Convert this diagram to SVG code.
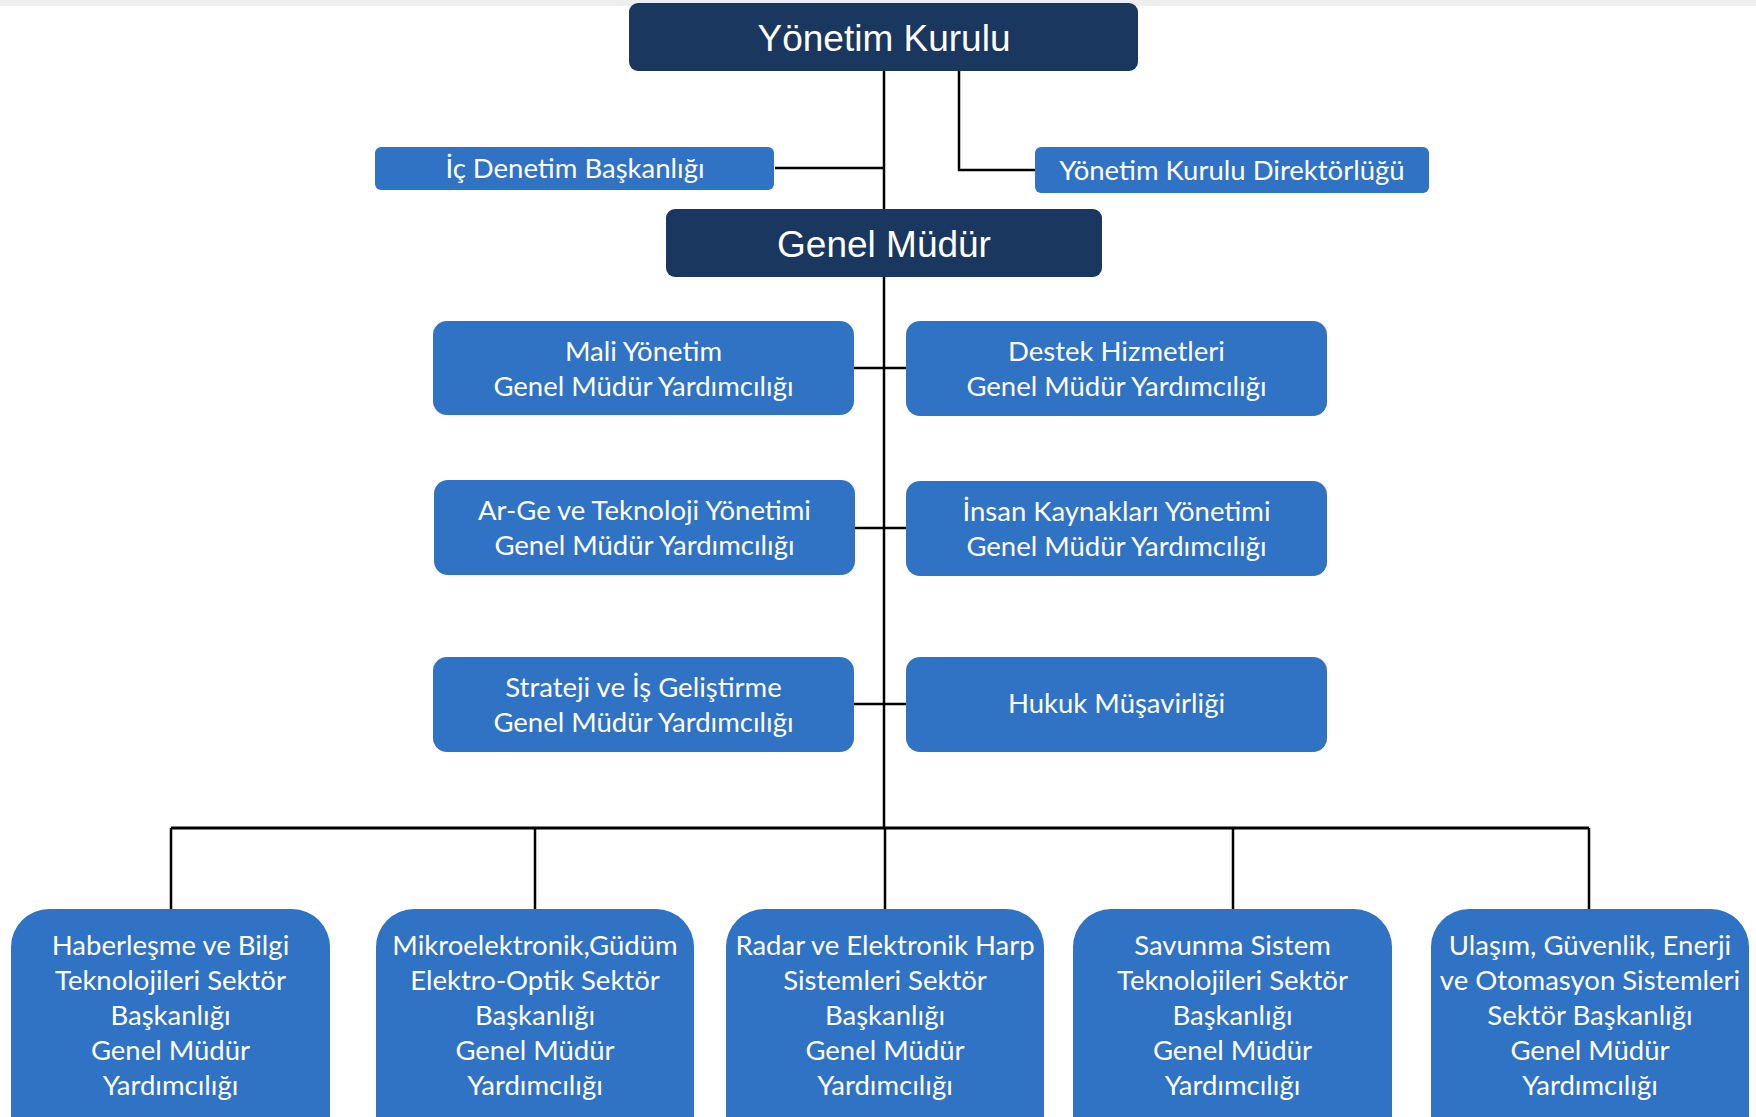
<svg xmlns="http://www.w3.org/2000/svg" width="1756" height="1117" viewBox="0 0 1756 1117">
<style>
.navy{fill:#1A375F}
.blue{fill:#3072C4}
.t1{font-family:"Liberation Sans",Arial,sans-serif;font-size:37px;fill:#fff;text-anchor:middle}
.t2{font-family:Lato,"Open Sans",sans-serif;font-size:27.5px;fill:#fff;text-anchor:middle}
.c{stroke:#000;stroke-width:2.5;fill:none}
</style>
<rect x="0" y="0" width="1756" height="1117" fill="#fff"/>
<rect x="0" y="0" width="1756" height="6" fill="#EEEEEE"/>
<g id="connectors">
<path class="c" d="M884 71V209"/>
<path class="c" d="M884 69H959V170H1035"/>
<path class="c" d="M775 168H884"/>
<path class="c" d="M884 277V828"/>
<path class="c" d="M854 368H906"/>
<path class="c" d="M855 528H906"/>
<path class="c" d="M854 704H906"/>
<path class="c" style="stroke-width:3" d="M171 828H1589"/>
<path class="c" d="M171 828V909M535 828V909M885 828V909M1233 828V909M1589 828V909"/>
</g>
<g id="yonetim-kurulu"><rect class="navy" x="629" y="3" width="509" height="68" rx="9"/><text class="t1" x="884" y="51">Yönetim Kurulu</text></g>
<g id="ic-denetim"><rect class="blue" x="375" y="147" width="399" height="43" rx="6"/><text class="t2" x="575" y="178">İç Denetim Başkanlığı</text></g>
<g id="yk-direktorlugu"><rect class="blue" x="1035" y="147" width="394" height="46" rx="6"/><text class="t2" x="1232" y="180">Yönetim Kurulu Direktörlüğü</text></g>
<g id="genel-mudur"><rect class="navy" x="666" y="209" width="436" height="68" rx="9"/><text class="t1" x="884" y="257">Genel Müdür</text></g>
<g id="mali"><rect class="blue" x="433" y="321" width="421" height="94" rx="14"/><text class="t2" x="643.5" y="361">Mali Yönetim</text><text class="t2" x="643.5" y="396">Genel Müdür Yardımcılığı</text></g>
<g id="destek"><rect class="blue" x="906" y="321" width="421" height="95" rx="14"/><text class="t2" x="1116.5" y="361">Destek Hizmetleri</text><text class="t2" x="1116.5" y="396">Genel Müdür Yardımcılığı</text></g>
<g id="arge"><rect class="blue" x="434" y="480" width="421" height="95" rx="14"/><text class="t2" x="644.5" y="520">Ar-Ge ve Teknoloji Yönetimi</text><text class="t2" x="644.5" y="555">Genel Müdür Yardımcılığı</text></g>
<g id="insan"><rect class="blue" x="906" y="481" width="421" height="95" rx="14"/><text class="t2" x="1116.5" y="521">İnsan Kaynakları Yönetimi</text><text class="t2" x="1116.5" y="556">Genel Müdür Yardımcılığı</text></g>
<g id="strateji"><rect class="blue" x="433" y="657" width="421" height="95" rx="14"/><text class="t2" x="643.5" y="697">Strateji ve İş Geliştirme</text><text class="t2" x="643.5" y="732">Genel Müdür Yardımcılığı</text></g>
<g id="hukuk"><rect class="blue" x="906" y="657" width="421" height="95" rx="14"/><text class="t2" x="1116.5" y="713">Hukuk Müşavirliği</text></g>
<g id="haberlesme"><rect class="blue" x="11" y="909" width="319" height="260" rx="38"/><text class="t2" x="170.5" y="955">Haberleşme ve Bilgi</text><text class="t2" x="170.5" y="990">Teknolojileri Sektör</text><text class="t2" x="170.5" y="1025">Başkanlığı</text><text class="t2" x="170.5" y="1060">Genel Müdür</text><text class="t2" x="170.5" y="1095">Yardımcılığı</text></g>
<g id="mikroelektronik"><rect class="blue" x="376" y="909" width="318" height="260" rx="38"/><text class="t2" x="535" y="955">Mikroelektronik,Güdüm</text><text class="t2" x="535" y="990">Elektro-Optik Sektör</text><text class="t2" x="535" y="1025">Başkanlığı</text><text class="t2" x="535" y="1060">Genel Müdür</text><text class="t2" x="535" y="1095">Yardımcılığı</text></g>
<g id="radar"><rect class="blue" x="726" y="909" width="318" height="260" rx="38"/><text class="t2" x="885" y="955">Radar ve Elektronik Harp</text><text class="t2" x="885" y="990">Sistemleri Sektör</text><text class="t2" x="885" y="1025">Başkanlığı</text><text class="t2" x="885" y="1060">Genel Müdür</text><text class="t2" x="885" y="1095">Yardımcılığı</text></g>
<g id="savunma"><rect class="blue" x="1073" y="909" width="319" height="260" rx="38"/><text class="t2" x="1232.5" y="955">Savunma Sistem</text><text class="t2" x="1232.5" y="990">Teknolojileri Sektör</text><text class="t2" x="1232.5" y="1025">Başkanlığı</text><text class="t2" x="1232.5" y="1060">Genel Müdür</text><text class="t2" x="1232.5" y="1095">Yardımcılığı</text></g>
<g id="ulasim"><rect class="blue" x="1431" y="909" width="318" height="260" rx="38"/><text class="t2" x="1590" y="955">Ulaşım, Güvenlik, Enerji</text><text class="t2" x="1590" y="990">ve Otomasyon Sistemleri</text><text class="t2" x="1590" y="1025">Sektör Başkanlığı</text><text class="t2" x="1590" y="1060">Genel Müdür</text><text class="t2" x="1590" y="1095">Yardımcılığı</text></g>
</svg>
